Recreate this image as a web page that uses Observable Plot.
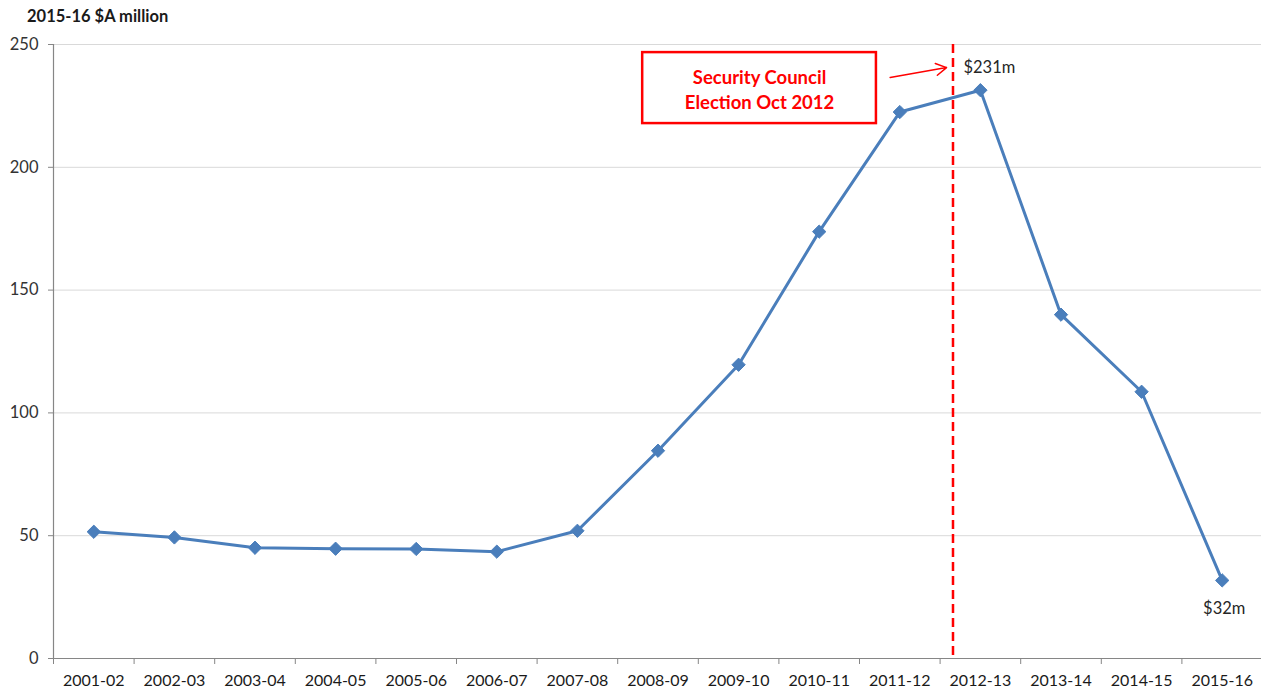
<!DOCTYPE html>
<html>
<head>
<meta charset="utf-8">
<script src="https://cdn.jsdelivr.net/npm/d3@7"></script>
<script src="https://cdn.jsdelivr.net/npm/@observablehq/plot@0.6"></script>
<style>
  html, body { margin: 0; padding: 0; background: #fff; }
  body { width: 1261px; height: 691px; overflow: hidden; font-family: Lato, "Open Sans", sans-serif; }
  #title { height: 30px; padding-left: 27px; font-size: 16.5px; font-weight: bold; color: #1a1a1a; line-height: 32px; }
</style>
</head>
<body>
<div id="title">2015-16 $A million</div>
<div id="chart"></div>
<script>
const years = ["2001-02","2002-03","2003-04","2004-05","2005-06","2006-07","2007-08","2008-09","2009-10","2010-11","2011-12","2012-13","2013-14","2014-15","2015-16"];
const values = [51.6, 49.3, 45.1, 44.7, 44.6, 43.5, 52.0, 84.6, 119.6, 173.8, 222.5, 231.4, 140.0, 108.6, 31.8];
const yTicks = [0, 50, 100, 150, 200, 250];
const peakLabel = {i: 11, text: "$231m"};
const endLabel = {i: 14, text: "$32m"};
const electionPos = 10.66;          // Oct 2012, within 2012-13
const annotationText = "Security Council\nElection Oct 2012";
const annotationBox = {x1: 6.81, x2: 9.71, y1: 217.8, y2: 246.7};
const annotationArrow = {x1: 9.88, y1: 236.6, x2: 10.58, y2: 240.6};

const data = years.map((y, i) => ({i, year: y, value: values[i]}));
const idx = d3.range(years.length);
const bounds = d3.range(years.length + 1).map(k => k - 0.5);

const chart = Plot.plot({
  width: 1261,
  height: 661,
  marginTop: 14,
  marginBottom: 33,
  marginLeft: 53,
  marginRight: 0,
  style: {fontFamily: "Lato, 'Open Sans', sans-serif", fontSize: "16px", color: "#333", background: "#fff"},
  x: {domain: [-0.5, years.length - 0.5], range: [53, 1262]},
  y: {domain: [0, 250]},
  marks: [
    Plot.gridY(yTicks.filter(t => t > 0), {stroke: "#d9d9d9", strokeOpacity: 1, strokeWidth: 1}),
    Plot.axisY({ticks: yTicks, tickSize: 5, tickPadding: 10, stroke: "#868686", fill: "#333", fontSize: 16.5, label: null}),
    Plot.ruleX([-0.5], {stroke: "#868686", strokeWidth: 1.2}),
    Plot.ruleY([0], {stroke: "#868686", strokeWidth: 1.2}),
    Plot.axisX({ticks: bounds, tickSize: 6, tickFormat: () => "", stroke: "#868686", label: null}),
    Plot.axisX({ticks: idx, tickSize: 0, tickPadding: 16, tickFormat: k => years[k], fill: "#1a1a1a", fontSize: 16, label: null}),
    Plot.ruleX([electionPos], {stroke: "#ff0000", strokeWidth: 2.5, strokeDasharray: "9,5"}),
    Plot.line(data, {x: "i", y: "value", stroke: "#4a7ebb", strokeWidth: 3}),
    Plot.dot(data, {x: "i", y: "value", symbol: "diamond2", r: 6, fill: "#4a7ebb", stroke: "#4a7ebb", strokeWidth: 1}),
    Plot.text([peakLabel], {x: d => d.i, y: d => values[d.i], text: "text", dx: 9, dy: -22, fill: "#262626", fontSize: 16.5}),
    Plot.text([endLabel], {x: d => d.i, y: d => values[d.i], text: "text", dx: 2, dy: 28, fill: "#262626", fontSize: 16.5}),
    Plot.rect([annotationBox], {x1: "x1", x2: "x2", y1: "y1", y2: "y2", fill: "white", stroke: "#ff0000", strokeWidth: 2.5}),
    Plot.text([annotationBox], {x: d => (d.x1 + d.x2) / 2, y: d => (d.y1 + d.y2) / 2, text: () => annotationText, fill: "#ff0000", fontWeight: "bold", fontSize: 18.5, lineHeight: 1.35}),
    Plot.arrow([annotationArrow], {x1: "x1", y1: "y1", x2: "x2", y2: "y2", stroke: "#ff0000", strokeWidth: 1.5, headLength: 12, bend: 0})
  ]
});
document.getElementById("chart").appendChild(chart);
</script>
</body>
</html>
